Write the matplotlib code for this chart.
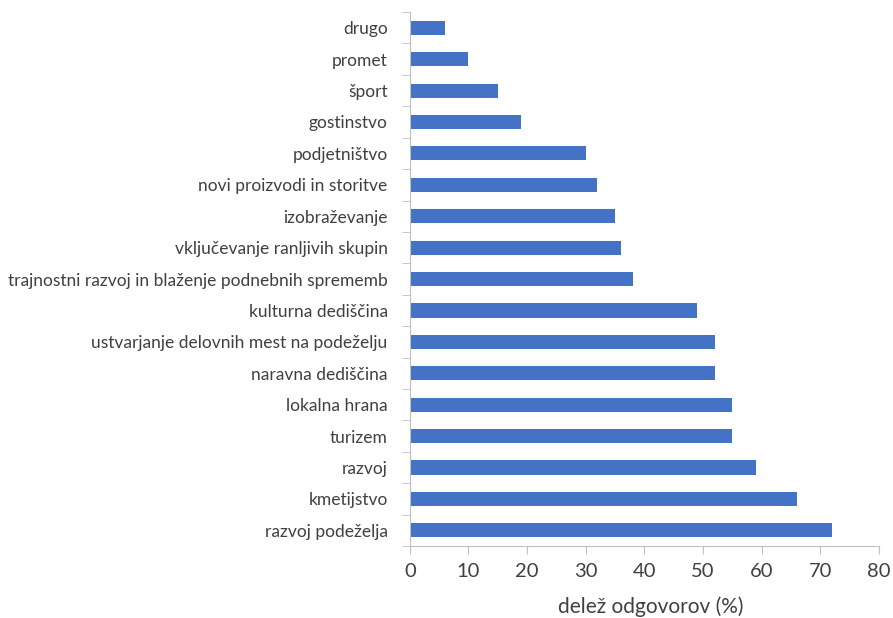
import numpy as np
import matplotlib.pyplot as plt

kategorije = [
    "razvoj podeželja",
    "kmetijstvo",
    "razvoj",
    "turizem",
    "lokalna hrana",
    "naravna dediščina",
    "ustvarjanje delovnih mest na podeželju",
    "kulturna dediščina",
    "trajnostni razvoj in blaženje podnebnih sprememb",
    "vključevanje ranljivih skupin",
    "izobraževanje",
    "novi proizvodi in storitve",
    "podjetništvo",
    "gostinstvo",
    "šport",
    "promet",
    "drugo",
]
delez = [72, 66, 59, 55, 55, 52, 52, 49, 38, 36, 35, 32, 30, 19, 15, 10, 6]

plt.rcParams['font.family'] = ['Lato', 'DejaVu Sans']

fig = plt.figure(figsize=(8.93, 6.18), dpi=100)
ax = fig.add_axes([0.459, 0.1165, 0.525, 0.864])

y = np.arange(len(kategorije))
ax.barh(y, delez, height=0.45, color="#4472C4")

ax.set_xlim(0, 80)
ax.set_ylim(-0.5, len(kategorije) - 0.5)
ax.set_xticks(np.arange(0, 81, 10))
ax.set_yticks(y)
ax.set_yticklabels(kategorije)
ax.set_yticks(np.arange(-0.5, len(kategorije), 1), minor=True)

siva = "#BFBFBF"
for s in ["top", "right"]:
    ax.spines[s].set_visible(False)
ax.spines["left"].set_color(siva)
ax.spines["bottom"].set_color(siva)

ax.tick_params(axis="y", which="major", length=0, pad=16, labelsize=12.5, labelcolor="#404040")
ax.tick_params(axis="y", which="minor", length=6, color=siva)
ax.tick_params(axis="x", length=6, color=siva, labelsize=14.5, labelcolor="#404040", pad=6)

ax.set_xlabel("delež odgovorov (%)", fontsize=15, color="#404040", labelpad=12)
ax.xaxis.set_label_coords(0.514, -0.094)

fig.savefig("out.png", dpi=100)
